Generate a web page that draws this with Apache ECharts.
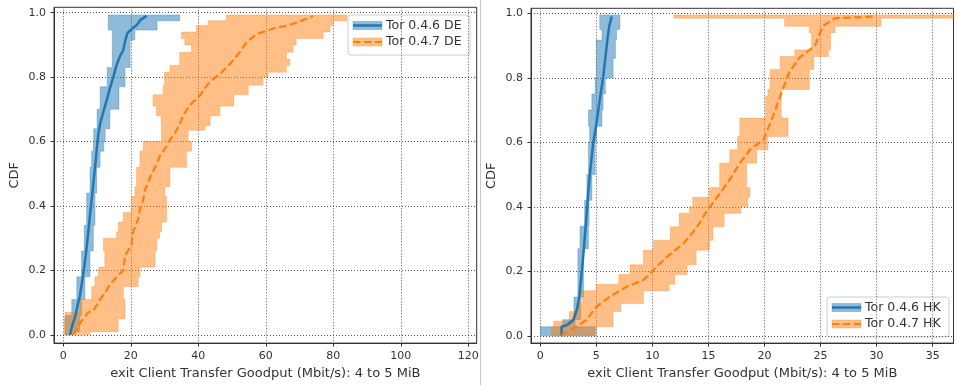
<!DOCTYPE html>
<html><head><meta charset="utf-8">
<script src="https://cdn.jsdelivr.net/npm/echarts@6/dist/echarts.min.js"></script>
<style>html,body{margin:0;padding:0;background:#fff}#c{width:957px;height:385px}</style>
</head><body><div id="c"></div><script>
// ---------- DATA ----------
const xLabel = 'exit Client Transfer Goodput (Mbit/s): 4 to 5 MiB';
const yLabel = 'CDF';
const seriesNamesDE = ['Tor 0.4.6 DE', 'Tor 0.4.7 DE'];
const seriesNamesHK = ['Tor 0.4.6 HK', 'Tor 0.4.7 HK'];
const xTicksDE = [0, 20, 40, 60, 80, 100, 120];
const xTicksHK = [0, 5, 10, 15, 20, 25, 30, 35];
const yTicks = [0, 0.2, 0.4, 0.6, 0.8, 1.0];

// median curves [goodput, cdf]
const de046Median = [[2.0,0],[2.4,0.02],[3.0,0.04],[3.6,0.06],[4.2,0.09],[4.9,0.12],[5.5,0.16],[6.2,0.21],[6.8,0.26],[7.4,0.32],[7.9,0.37],[8.4,0.42],[8.8,0.46],[9.2,0.50],[9.6,0.54],[9.9,0.575],[10.4,0.625],[11.0,0.66],[11.8,0.69],[12.9,0.73],[13.8,0.765],[14.8,0.80],[15.7,0.835],[16.8,0.865],[17.8,0.885],[18.4,0.915],[19.0,0.937],[20.3,0.95],[21.8,0.962],[22.8,0.977],[24.7,0.99]];
const de047Median = [[3.0,0],[3.5,0.01],[4.9,0.036],[7.4,0.07],[8.9,0.075],[10.9,0.11],[12.3,0.13],[13.8,0.155],[15.8,0.18],[17.8,0.2],[18.3,0.245],[20.2,0.28],[20.7,0.32],[22.2,0.36],[22.7,0.39],[23.7,0.42],[24.2,0.45],[26.2,0.50],[27.7,0.53],[28.6,0.555],[30.6,0.585],[31.6,0.605],[33.0,0.625],[34.3,0.65],[35.5,0.68],[37.3,0.71],[40.4,0.743],[43.4,0.785],[46.4,0.81],[49.3,0.84],[52.3,0.877],[54.3,0.908],[57.2,0.933],[60.2,0.944],[63.2,0.954],[66.1,0.959],[69.1,0.969],[73.0,0.985],[74.0,0.99]];
const hk046Median = [[1.9,0],[1.9,0.028],[2.35,0.033],[2.95,0.049],[3.3,0.085],[3.48,0.121],[3.69,0.194],[3.9,0.276],[4.14,0.38],[4.29,0.45],[4.43,0.504],[4.6,0.56],[4.73,0.6],[4.97,0.65],[5.3,0.73],[5.6,0.8],[5.8,0.86],[5.98,0.917],[6.15,0.96],[6.37,0.99]];
const hk047Median = [[1.9,0],[2.35,0.012],[3.24,0.028],[4.1,0.049],[5.0,0.09],[6.2,0.121],[7.7,0.152],[9.2,0.173],[10.1,0.204],[11.3,0.245],[12.8,0.287],[14.0,0.338],[14.9,0.39],[16.0,0.44],[17.0,0.49],[17.8,0.535],[18.7,0.577],[19.9,0.608],[20.7,0.675],[21.5,0.753],[22.2,0.816],[23.1,0.862],[24.5,0.90],[25.2,0.96],[26.3,0.985],[30.0,0.99]];

// confidence bands: cdf level edges, lower / upper goodput for each level
const de046Edges = [0,0.01,0.06,0.11,0.18,0.26,0.34,0.44,0.52,0.57,0.60,0.64,0.70,0.77,0.83,0.915,0.946,0.975,0.993];
const de046Lo    = [0.5,0.5,2.5,4.0,5.4,6.2,6.9,7.9,8.4,8.9,9.0,10.0,10.9,13.0,14.5,14.5,13.3,13.3];
const de046Hi    = [3.0,4.9,5.4,6.4,7.9,8.9,9.4,9.9,10.9,12.0,12.4,13.8,16.5,18.3,19.8,21.2,27.8,34.5];

const de047Edges = [0,0.01,0.05,0.07,0.11,0.15,0.18,0.21,0.26,0.30,0.32,0.35,0.38,0.43,0.46,0.52,0.57,0.60,0.635,0.65,0.68,0.71,0.745,0.775,0.80,0.815,0.836,0.856,0.877,0.90,0.92,0.94,0.96,0.975,0.993];
const de047Lo    = [0.3,0.3,0.5,4.9,8.4,9.4,10.4,12.3,11.9,15.8,16.3,17.8,20.2,21.2,21.7,22.7,23.7,29.1,29.1,29.0,27.6,26.6,29.6,30.0,30.0,31.6,34.5,34.5,38.0,36.0,35.0,39.5,42.9,48.3];
const de047Hi    = [7.9,16.3,18.3,18.3,17.8,22.2,22.7,27.2,27.7,28.5,29.1,30.6,30.6,30.1,31.6,36.5,38.0,37.0,42.0,43.5,46.4,50.5,54.8,59.2,60.7,66.1,67.1,66.1,68.1,69.0,77.0,79.0,80.0,84.0];

const hk046Edges = [0,0.028,0.05,0.12,0.27,0.34,0.42,0.50,0.60,0.65,0.70,0.75,0.80,0.86,0.917,0.95,0.995];
const hk046Lo    = [0,2.0,3.0,3.35,3.54,3.95,4.15,4.3,4.4,4.3,4.6,4.9,5.0,5.0,5.5,5.3];
const hk046Hi    = [4.9,3.1,3.6,3.85,4.29,4.35,4.6,4.9,5.0,5.5,5.6,5.8,6.5,6.7,6.8,7.1];

const hk047Edges = [0,0.028,0.045,0.075,0.10,0.14,0.16,0.19,0.22,0.265,0.296,0.338,0.38,0.40,0.43,0.46,0.535,0.577,0.618,0.675,0.743,0.764,0.826,0.866,0.886,0.94,0.96,0.985,0.995];
const hk047Lo    = [1.0,1.2,2.6,3.2,3.7,5.0,7.0,8.0,9.2,10.1,11.6,12.4,13.3,13.6,15.1,16.0,16.9,17.6,17.8,20.1,20.3,20.5,21.4,22.7,24.2,24.0,21.8,11.9];
const hk047Hi    = [5.0,6.5,6.5,7.2,9.2,11.5,12.0,13.1,13.9,15.1,15.4,16.4,17.9,18.5,18.7,18.4,19.3,20.3,22.1,21.5,21.5,24.0,24.4,25.7,25.9,26.3,30.4,36.86];

// ---------- CHART ----------
const BLUE = '#1f77b4', ORANGE = '#ff7f0e';
const BLUE_BAND = 'rgba(31,119,180,0.5)', ORANGE_BAND = 'rgba(255,127,14,0.5)';
const FONT = 'DejaVu Sans';

function bandPoints(edges, lo, hi) {
  const pts = [];
  for (let i = 0; i < lo.length; i++) { pts.push([lo[i], edges[i]]); pts.push([lo[i], edges[i+1]]); }
  for (let i = hi.length - 1; i >= 0; i--) { pts.push([hi[i], edges[i+1]]); pts.push([hi[i], edges[i]]); }
  return pts;
}
function bandSeries(name, gi, pts, color) {
  return {
    type: 'custom', name: name, xAxisIndex: gi, yAxisIndex: gi, clip: true, silent: true, z: 1,
    data: pts, encode: {x: 0, y: 1},
    renderItem: function (params, api) {
      if (params.dataIndex !== 0) return null;
      const poly = pts.map(p => api.coord(p));
      return {type: 'polygon', shape: {points: poly}, style: {fill: color, stroke: color, lineWidth: 0.6}};
    }
  };
}
function lineSeries(name, gi, data, color, dashed) {
  return {
    type: 'line', name: name, xAxisIndex: gi, yAxisIndex: gi, data: data, showSymbol: false, symbol: 'none',
    silent: true, z: 3, clip: true,
    lineStyle: {color: color, width: dashed ? 2.2 : 2.5, type: dashed ? [7.5, 3.5] : 'solid', cap: 'butt'}
  };
}
function xAxis(gi, min, max, ticks) {
  return {
    type: 'value', gridIndex: gi, min: min, max: max,
    name: xLabel, nameLocation: 'middle', nameGap: 23,
    nameTextStyle: {fontFamily: FONT, fontSize: 13, color: '#333'},
    axisLine: {show: true, onZero: false, lineStyle: {color: '#333', width: 1}},
    axisTick: {show: true, length: 3.5, customValues: ticks, lineStyle: {color: '#333'}},
    axisLabel: {customValues: ticks, margin: 8, fontFamily: FONT, fontSize: 11, color: '#333'},
    splitLine: {show: true, lineStyle: {color: '#555', width: 1, type: [1, 2]}}
  };
}
function yAxis(gi, min, max) {
  return {
    type: 'value', gridIndex: gi, min: min, max: max,
    name: yLabel, nameLocation: 'middle', nameGap: 33, nameRotate: 90,
    nameTextStyle: {fontFamily: FONT, fontSize: 13, color: '#333'},
    axisLine: {show: true, onZero: false, lineStyle: {color: '#333', width: 1}},
    axisTick: {show: true, length: 3.5, customValues: yTicks, lineStyle: {color: '#333'}},
    axisLabel: {customValues: yTicks, margin: 8, fontFamily: FONT, fontSize: 11, color: '#333',
                formatter: v => Number(v).toFixed(1)},
    splitLine: {show: true, lineStyle: {color: '#555', width: 1, type: [1, 2]}}
  };
}
function legendGroup(x, y, names) {
  const w = 122, h = 40;
  const rows = [y + 10.5, y + 27];
  const children = [{type: 'rect', shape: {x: x, y: y, width: w, height: h, r: 3},
    style: {fill: 'rgba(255,255,255,0.8)', stroke: '#cccccc', lineWidth: 1}}];
  const cols = [[BLUE, BLUE_BAND, false], [ORANGE, ORANGE_BAND, true]];
  rows.forEach((cy, i) => {
    const [c, b, d] = cols[i];
    children.push({type: 'rect', shape: {x: x + 5, y: cy - 4, width: 29, height: 8}, style: {fill: b, stroke: b, lineWidth: 0.6}});
    children.push({type: 'line', shape: {x1: x + 5, y1: cy, x2: x + 34, y2: cy},
      style: {stroke: c, lineWidth: d ? 2.2 : 2.5, lineDash: d ? [7.5, 3.5] : null}});
    children.push({type: 'text', x: x + 38, y: cy, style: {text: names[i], fontFamily: FONT, fontSize: 12.5,
      fill: '#333', verticalAlign: 'middle', align: 'left'}});
  });
  return {type: 'group', z: 100, children: children};
}

const chart = echarts.init(document.getElementById('c'), null, {renderer: 'canvas'});
chart.setOption({
  animation: false,
  backgroundColor: '#fff',
  grid: [
    {left: 54, right: 480.3, top: 7.3, bottom: 40, show: true, borderColor: '#333', borderWidth: 1, backgroundColor: 'transparent'},
    {left: 531, right: 3.5, top: 8.3, bottom: 41.7, show: true, borderColor: '#333', borderWidth: 1, backgroundColor: 'transparent'}
  ],
  xAxis: [xAxis(0, -2.76, 122.5, xTicksDE), xAxis(1, -0.83, 36.86, xTicksHK)],
  yAxis: [yAxis(0, -0.0256, 1.0167), yAxis(1, -0.0226, 1.0155)],
  series: [
    bandSeries(seriesNamesDE[0] + ' band', 0, bandPoints(de046Edges, de046Lo, de046Hi), BLUE_BAND),
    bandSeries(seriesNamesDE[1] + ' band', 0, bandPoints(de047Edges, de047Lo, de047Hi), ORANGE_BAND),
    lineSeries(seriesNamesDE[0], 0, de046Median, BLUE, false),
    lineSeries(seriesNamesDE[1], 0, de047Median, ORANGE, true),
    bandSeries(seriesNamesHK[0] + ' band', 1, bandPoints(hk046Edges, hk046Lo, hk046Hi), BLUE_BAND),
    bandSeries(seriesNamesHK[1] + ' band', 1, bandPoints(hk047Edges, hk047Lo, hk047Hi), ORANGE_BAND),
    lineSeries(seriesNamesHK[0], 1, hk046Median, BLUE, false),
    lineSeries(seriesNamesHK[1], 1, hk047Median, ORANGE, true)
  ],
  graphic: [
    {type: 'line', shape: {x1: 480.5, y1: 0, x2: 480.5, y2: 385}, style: {stroke: '#c8c8c8', lineWidth: 1}},
    legendGroup(348, 15, seriesNamesDE),
    legendGroup(827, 297, seriesNamesHK)
  ]
});
</script></body></html>
